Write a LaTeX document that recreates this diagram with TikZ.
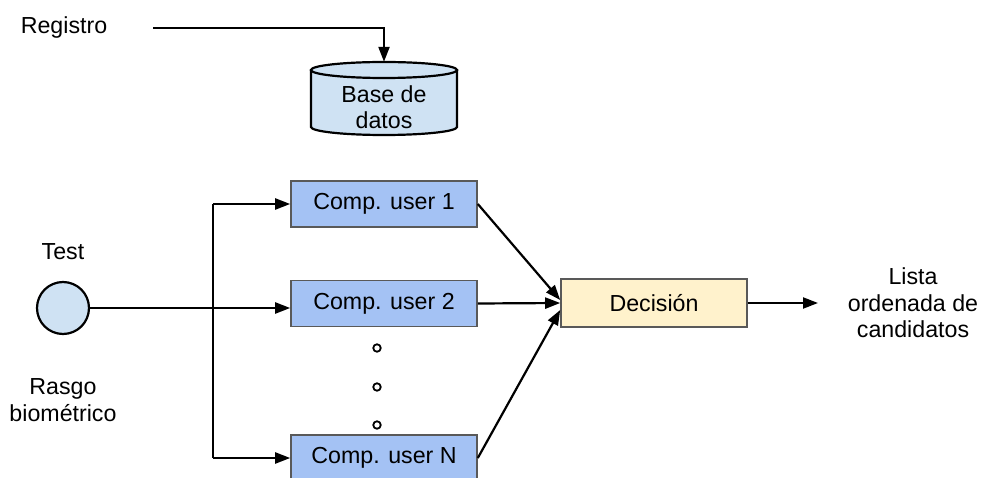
\documentclass[tikz,border=0pt]{standalone}
\usepackage{fontspec}
\setmainfont{Liberation Sans}
\usetikzlibrary{arrows.meta,calc}
\definecolor{compfill}{HTML}{A4C2F4}
\definecolor{dbfill}{HTML}{CFE2F3}
\definecolor{decfill}{HTML}{FFF2CC}
\definecolor{boxline}{HTML}{595959}
\tikzset{
  every node/.style={font=\fontsize{23.2}{26.5}\selectfont, inner sep=0pt},
  label/.style={align=center},
  compbox/.style={draw=boxline, line width=1.6pt, fill=compfill, minimum width=186pt, minimum height=46pt},
  decbox/.style={draw=boxline, line width=1.6pt, fill=decfill, minimum width=186pt, minimum height=48pt},
  conn/.style={draw=black, line width=2.2pt, -{Triangle[length=15pt,width=11pt]}},
  plain/.style={draw=black, line width=2.2pt},
  dotmark/.style={circle, draw=black, line width=1.8pt, fill=white, minimum size=7.5pt},
}
\begin{document}
\begin{tikzpicture}[x=1pt,y=1pt]
\useasboundingbox (0,0) rectangle (981,477);
\clip (0,0) rectangle (981,477);

% database cylinder
\fill[dbfill] (311,407) -- (311,350) arc[start angle=180,end angle=360,x radius=73pt,y radius=8pt] -- (457,407) -- cycle;
\fill[dbfill] (384,407) ellipse[x radius=73pt,y radius=8pt];
\draw[line width=2.2pt] (311,407) -- (311,350) arc[start angle=180,end angle=360,x radius=73pt,y radius=8pt] -- (457,407);
\draw[line width=2.2pt] (384,407) ellipse[x radius=73pt,y radius=8pt];
\node[minimum width=146pt, minimum height=73pt] (db) at (384,378.5) {};
\node[label] (dbtext) at (384,370) {Base de\\datos};

% enrolment input
\node[label] (reg) at (64,449) {Registro};
\coordinate (regstart) at (153,449);
\draw[conn] (regstart) -| (db.north);

% test sample
\node[circle, draw=black, line width=2.2pt, fill=dbfill, minimum size=52pt] (test) at (63,169) {};
\node[label] (testlbl) at (63,225) {Test};
\node[label] (rasgo) at (63,77) {Rasgo\\biométrico};

% per-user comparators
\node[compbox] (c1) at (384,273) {Comp. user 1};
\node[compbox] (c2) at (384,173.5) {Comp. user 2};
\node[compbox] (cn) at (384,19) {Comp. user N};
\node[dotmark] (d1) at (377,129) {};
\node[dotmark] (d2) at (377,90) {};
\node[dotmark] (d3) at (377,52) {};

% fan-out from the test sample
\draw[conn] (test.east) -- (test.east -| c2.west);
\draw[plain] (213,273) -- (213,19);
\draw[conn] (213,273) -- (c1.west);
\draw[conn] (213,19) -- (cn.west);

% decision stage
\node[decbox] (dec) at (654,174) {Decisión};
\draw[conn] (c1.east) -- ($(dec.west)+(0,3)$);
\draw[conn] (c2.east) -- (dec.west);
\draw[conn] (cn.east) -- ($(dec.west)+(0,-7)$);

% output
\coordinate (outend) at (818,174);
\draw[conn] (dec.east) -- (outend);
\node[label] (lista) at (913,174) {Lista\\ordenada de\\candidatos};
\end{tikzpicture}
\end{document}
